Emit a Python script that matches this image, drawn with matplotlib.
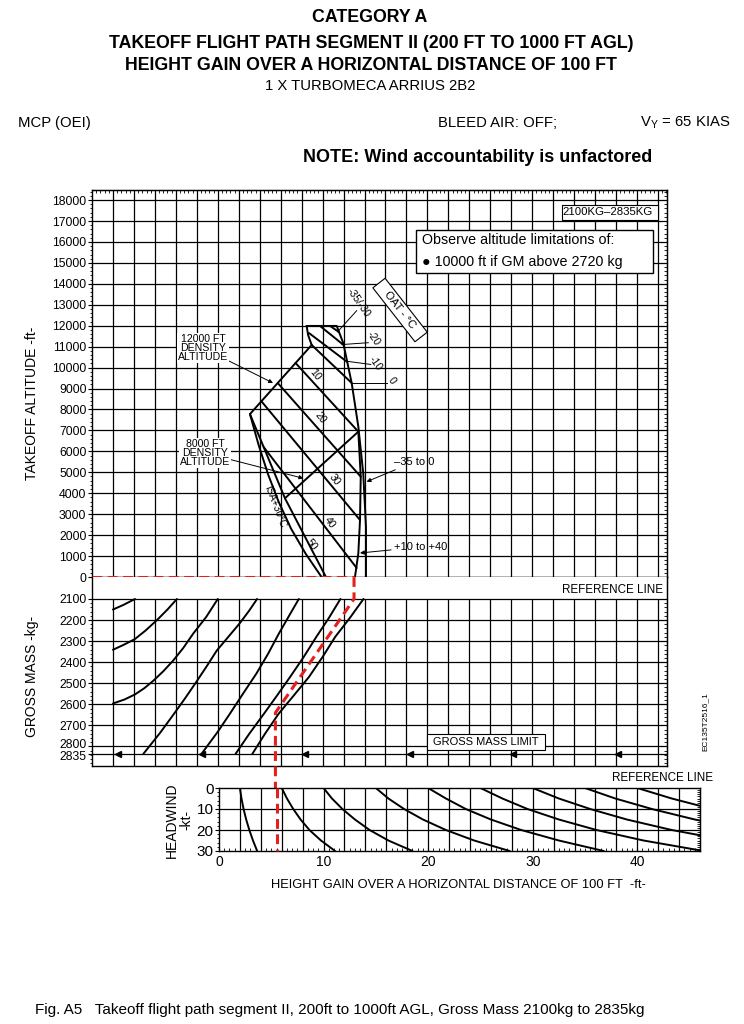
"""Category A takeoff flight path segment II nomogram (height gain per 100 ft)
"""
import matplotlib.pyplot as plt
from matplotlib.patches import Rectangle
from matplotlib.ticker import MultipleLocator, FixedLocator
import matplotlib.transforms as mtransforms

plt.rcParams['font.family'] = ['Liberation Sans', 'DejaVu Sans']
plt.rcParams['mathtext.fontset'] = 'custom'
plt.rcParams['mathtext.rm'] = 'Liberation Sans'

W, H = 744, 1024

# ---------------------------------------------------------------- data
altitude_ticks = list(range(0, 18001, 1000))
mass_ticks = [2100, 2200, 2300, 2400, 2500, 2600, 2700, 2800, 2835]
wind_ticks = [0, 10, 20, 30]
gain_ticks = [0, 10, 20, 30, 40]

# upper carpet: x in height-gain units, y in takeoff altitude (ft)
da_12000_x = [8.96, 3.07]
da_12000_alt = [11080, 7780]
da_8000_x = [13.41, 6.41]
da_8000_alt = [6940, 3760]
leaf_x = [8.48, 8.62, 8.96]
leaf_alt = [11990, 11550, 11080]
outer_x = [8.48, 11.35, 11.98, 12.78, 13.41, 13.88, 14.14, 14.14]
outer_alt = [11990, 11990, 11160, 9250, 7180, 4950, 2400, 0]
inner_x = [13.41, 13.64, 13.57, 13.41, 13.09]
inner_alt = [6940, 4790, 2720, 1130, 0]
left_edge_x = [3.07, 6.41]
left_edge_alt = [7780, 3760]
isa30_x = [3.07, 3.9, 4.8, 5.8, 7.0, 8.4, 9.9]
isa30_alt = [7780, 6300, 4900, 3600, 2300, 1100, 0]

oat_start_x = [10.71, 9.75, 8.70, 8.96, 7.42, 5.72, 4.15, 4.37, 6.41]
oat_start_alt = [11990, 11990, 11650, 11080, 10220, 9264, 8400, 6210, 3760]
oat_end_x = [11.55, 12.0, 12.35, 12.78, 13.41, 13.64, 13.57, 13.25, 10.32]
oat_end_alt = [11700, 11080, 10270, 9264, 6940, 4790, 2722, 430, 0]

# lower-left chart: gross mass lines
mass_curve_x = [
    [-10.0, -9.0, -7.9],
    [-10.0, -9.0, -7.9, -6.9, -5.8, -4.8, -3.9],
    [-10.0, -8.9, -7.9, -7.0, -6.15, -5.2, -4.25, -3.3, -2.34, -1.1, 0.0],
    [-7.1, -5.5, -4.25, -3.1, -2.0, -1.0, -0.1, 1.0, 2.1, 3.0, 3.75],
    [-1.55, 0.0, 1.15, 2.4, 3.67, 4.8, 5.83, 6.8, 7.73],
    [1.7, 3.0, 4.4, 5.7, 6.9, 8.2, 9.4, 10.6, 11.7],
    [3.3, 4.5, 5.8, 7.3, 8.7, 10.0, 11.2, 12.6, 13.9],
]
mass_curve_kg = [
    [2150, 2128, 2100],
    [2341, 2318, 2290, 2250, 2200, 2150, 2100],
    [2596, 2577, 2553, 2523, 2488, 2443, 2392, 2333, 2264, 2185, 2100],
    [2835, 2735, 2650, 2570, 2490, 2415, 2345, 2280, 2215, 2155, 2100],
    [2835, 2730, 2645, 2550, 2455, 2360, 2264, 2180, 2100],
    [2835, 2740, 2645, 2555, 2470, 2375, 2280, 2190, 2100],
    [2835, 2740, 2645, 2555, 2470, 2375, 2280, 2190, 2100],
]
gross_mass_limit = 2835
limit_arrow_x = [-9.5, -1.5, 8.3, 18.3, 28.2, 38.2]

# headwind correction lines
wind_curve_gain = [
    [2.0, 2.15, 2.35, 2.6, 2.9, 3.25, 3.65],
    [6.0, 6.5, 7.1, 7.8, 8.65, 9.75, 11.1],
    [10.0, 10.8, 11.8, 13.0, 14.4, 16.2, 18.5],
    [15.0, 16.2, 17.7, 19.5, 21.7, 24.4, 27.8],
    [20.0, 21.7, 23.6, 26.0, 28.9, 32.5, 36.8],
    [25.0, 27.1, 29.5, 32.5, 36.1, 40.6, 46.0],
    [30.0, 32.5, 35.5, 39.0, 43.3, 46.0],
    [35.0, 37.9, 41.4, 45.5, 46.0],
    [40.0, 43.3, 46.0],
]
wind_curve_kt = [
    [0, 5, 10, 15, 20, 25, 30],
    [0, 5, 10, 15, 20, 25, 30],
    [0, 5, 10, 15, 20, 25, 30],
    [0, 5, 10, 15, 20, 25, 30],
    [0, 5, 10, 15, 20, 25, 30],
    [0, 5, 10, 15, 20, 25, 29.7],
    [0, 5, 10, 15, 20, 22.5],
    [0, 5, 10, 15, 15.5],
    [0, 5, 8.5],
]

# worked example (red dashed)
ref_alt_x = [-12.0, 13.0]
ref_alt_ft = [0, 0]
ref_mass_x = [13.0, 13.0, 5.5, 5.5]
ref_mass_kg = [1996, 2100, 2640, 2997]
ref_wind_x = [5.5, 5.5]
ref_wind_kt = [0, 30]

# ---------------------------------------------------------------- figure
fig = plt.figure(figsize=(W / 100, H / 100), dpi=100)


def px_box(left, top, right, bottom):
    return [left / W, 1 - bottom / H, (right - left) / W, (bottom - top) / H]


def fig_text(x, y, s, **kw):
    kw.setdefault('va', 'center')
    fig.text(x / W, 1 - y / H, s, **kw)


ax_alt = fig.add_axes(px_box(92, 190, 667, 577))
ax_mass = fig.add_axes(px_box(92, 577, 667, 766))
ax_wind = fig.add_axes(px_box(219, 788, 700, 851))

GRID = dict(color='black', lw=0.9, zorder=1)
CURVE = dict(color='black', lw=1.4, zorder=3, solid_capstyle='round')
THIN = dict(color='black', lw=0.7, zorder=3)
RED = dict(color='#e3201b', lw=2.2, ls=(0, (3.2, 1.8)), zorder=6, clip_on=False)
ARROW = dict(arrowstyle='-|>', color='black', lw=0.7, mutation_scale=6,
             shrinkA=0, shrinkB=0)

for ax in (ax_alt, ax_mass, ax_wind):
    for sp in ax.spines.values():
        sp.set_linewidth(1.0)


def inner_ticks(ax, right_step, top_step=None):
    sec = ax.secondary_yaxis('right')
    sec.set_yticks([])
    sec.yaxis.set_minor_locator(right_step)
    sec.tick_params(which='minor', direction='in', length=2.5, width=0.6)
    if top_step is not None:
        sect = ax.secondary_xaxis('top')
        sect.set_xticks([])
        sect.xaxis.set_minor_locator(top_step)
        sect.tick_params(which='minor', direction='in', length=2.5, width=0.6)


# --- takeoff altitude panel
x_lo, x_hi = -12.0, 42.86
alt_top = 18481
ax_alt.set_xlim(x_lo, x_hi)
ax_alt.set_ylim(0, alt_top)
grid_x = list(range(-10, 43, 2))
ax_alt.vlines(grid_x, 0, alt_top, **GRID)
ax_alt.hlines(altitude_ticks, x_lo, x_hi, **GRID)
ax_alt.set_yticks(altitude_ticks)
ax_alt.yaxis.set_minor_locator(MultipleLocator(200))
ax_alt.tick_params(axis='y', which='major', direction='out', length=3, width=0.8,
                   labelsize=8.8, pad=1)
ax_alt.tick_params(axis='y', which='minor', direction='out', length=1.8, width=0.6)
ax_alt.tick_params(axis='x', which='both', bottom=False, labelbottom=False)
inner_ticks(ax_alt, MultipleLocator(200), MultipleLocator(0.4))

ax_alt.plot(da_12000_x, da_12000_alt, **CURVE)
ax_alt.plot(da_8000_x, da_8000_alt, **CURVE)
ax_alt.plot(leaf_x, leaf_alt, **CURVE)
ax_alt.plot(outer_x, outer_alt, **CURVE)
ax_alt.plot(inner_x, inner_alt, **CURVE)
ax_alt.plot(left_edge_x, left_edge_alt, **CURVE)
ax_alt.plot(isa30_x, isa30_alt, **CURVE)
for x0, y0, x1, y1 in zip(oat_start_x, oat_start_alt, oat_end_x, oat_end_alt):
    ax_alt.plot([x0, x1], [y0, y1], **CURVE)

# temperature labels
for s, x, y in [('10', 9.27, 9647), ('20', 9.75, 7593), ('30', 11.18, 4632),
                ('40', 10.71, 2579), ('50', 8.96, 1528)]:
    ax_alt.text(x, y, s, rotation=-52, ha='center', va='center', fontsize=7.5,
                zorder=5)
for s, x, y, lx, ly in [('-35/-30', 13.38, 13085, [13.25, 11.44], [12717, 11714]),
                        ('-20', 14.81, 11414, [14.36, 11.85], [11189, 11100]),
                        ('-10', 15.0, 10219, [14.6, 12.35], [10150, 10300]),
                        ('0', 16.62, 9360, [16.1, 12.85], [9280, 9280])]:
    ax_alt.text(x, y, s, rotation=-55, ha='center', va='center', fontsize=7.5,
                zorder=5)
    ax_alt.plot(lx, ly, **THIN)
ax_alt.text(17.39, 12750, '   OAT - °C   ', rotation=-52, ha='center', va='center',
            fontsize=8, zorder=5,
            bbox=dict(boxstyle='square,pad=0.25', fc='white', ec='black', lw=0.8))
ax_alt.text(5.45, 3350, 'ISA+30°C', rotation=-69, ha='center', va='center',
            fontsize=7.2, zorder=5)

ax_alt.annotate('12000 FT\nDENSITY\nALTITUDE', xy=(5.27, 9264), xytext=(-1.41, 10936),
                ha='center', va='center', fontsize=7.6, linespacing=0.9, zorder=5,
                bbox=dict(boxstyle='square,pad=0.05', fc='white', ec='none'),
                arrowprops=ARROW)
ax_alt.annotate('8000 FT\nDENSITY\nALTITUDE', xy=(8.16, 4713), xytext=(-1.22, 5922),
                ha='center', va='center', fontsize=7.6, linespacing=0.9, zorder=5,
                bbox=dict(boxstyle='square,pad=0.05', fc='white', ec='none'),
                arrowprops=ARROW)
ax_alt.annotate('–35 to 0', xy=(14.2, 4551), xytext=(16.8, 5492), ha='left',
                va='center', fontsize=8, zorder=5, arrowprops=ARROW)
ax_alt.annotate('+10 to +40', xy=(13.57, 1146), xytext=(16.8, 1433), ha='left',
                va='center', fontsize=8, zorder=5, arrowprops=ARROW)

# boxes at the top right
ax_alt.add_patch(Rectangle((32.84, 17048), 9.16, 717, fc='white', ec='black',
                           lw=0.8, zorder=4))
ax_alt.text(41.5, 17410, '2100KG–2835KG', ha='right', va='center', fontsize=8.2,
            zorder=5)
ax_alt.add_patch(Rectangle((18.91, 14518), 22.62, 2053, fc='white', ec='black',
                           lw=1.0, zorder=4))
ax_alt.text(19.5, 16093, 'Observe altitude limitations of:', ha='left',
            va='center', fontsize=10.3, zorder=5)
ax_alt.text(19.5, 15043, '● 10000 ft if GM above 2720 kg', ha='left',
            va='center', fontsize=10.3, zorder=5)

ax_alt.plot(ref_alt_x, ref_alt_ft, **RED)

# --- gross mass panel
mass_top, mass_bottom = 1995.6, 2892.6
ax_mass.set_xlim(x_lo, x_hi)
ax_mass.set_ylim(mass_bottom, mass_top)
ax_mass.spines['top'].set_visible(False)
ax_mass.vlines(grid_x, 2100, mass_bottom, **GRID)
ax_mass.hlines(mass_ticks, x_lo, x_hi, **GRID)
ax_mass.set_yticks(mass_ticks)
ax_mass.yaxis.set_minor_locator(FixedLocator(list(range(2100, 2890, 20))))
ax_mass.tick_params(axis='y', which='major', direction='out', length=3, width=0.8,
                    labelsize=8.8, pad=1)
ax_mass.tick_params(axis='y', which='minor', direction='out', length=1.8, width=0.6)
ax_mass.tick_params(axis='x', which='both', bottom=False, labelbottom=False)
inner_ticks(ax_mass, FixedLocator(list(range(2100, 2890, 20))))

for xs, ms in zip(mass_curve_x, mass_curve_kg):
    ax_mass.plot(xs, ms, **CURVE)
ax_mass.plot(limit_arrow_x, [gross_mass_limit] * len(limit_arrow_x), ls='none',
             marker='<', ms=4.5, color='black', zorder=4)
ax_mass.add_patch(Rectangle((19.96, 2741), 11.26, 76, fc='white', ec='black',
                            lw=0.8, zorder=4))
ax_mass.text(25.6, 2779, 'GROSS MASS LIMIT', ha='center', va='center', fontsize=8,
             zorder=5)
ax_mass.text(42.5, 2057, 'REFERENCE LINE', ha='right', va='center', fontsize=8.4)
ax_mass.text(46.5, 2684, 'EC135T2516_1', rotation=90, ha='center', va='center',
             fontsize=6, clip_on=False)
ax_mass.plot(ref_mass_x, ref_mass_kg, **RED)

# nudge the crowded 2800 / 2835 labels apart
mticks = ax_mass.yaxis.get_major_ticks()
mticks[7].label1.set_transform(mticks[7].label1.get_transform() +
                               mtransforms.ScaledTranslation(0, 3 / 100,
                                                             fig.dpi_scale_trans))
mticks[8].label1.set_transform(mticks[8].label1.get_transform() +
                               mtransforms.ScaledTranslation(0, -1.5 / 100,
                                                             fig.dpi_scale_trans))

# --- headwind panel
ax_wind.set_xlim(0, 46)
ax_wind.set_ylim(30, 0)
ax_wind.vlines(list(range(2, 45, 2)), 0, 30, **GRID)
ax_wind.hlines([10, 20], 0, 46, **GRID)
ax_wind.set_yticks(wind_ticks)
ax_wind.yaxis.set_minor_locator(MultipleLocator(2))
ax_wind.tick_params(axis='y', which='major', direction='out', length=3, width=0.8,
                    labelsize=11, pad=1)
ax_wind.tick_params(axis='y', which='minor', direction='out', length=1.8, width=0.6)
ax_wind.set_xticks(gain_ticks)
ax_wind.xaxis.set_minor_locator(MultipleLocator(0.5))
ax_wind.tick_params(axis='x', which='major', direction='in', length=2.5, width=0.8,
                    labelsize=10, pad=3)
ax_wind.tick_params(axis='x', which='minor', direction='in', length=2, width=0.6)
inner_ticks(ax_wind, MultipleLocator(1))

for gs, ks in zip(wind_curve_gain, wind_curve_kt):
    ax_wind.plot(gs, ks, **CURVE)
ax_wind.text(47.2, -4.6, 'REFERENCE LINE', ha='right', va='center', fontsize=8.4,
             clip_on=False)
ax_wind.plot(ref_wind_x, ref_wind_kt, **RED)

# --- texts around the chart
fig_text(370, 18, 'CATEGORY A', fontsize=12.8, weight='bold', ha='center')
fig_text(371, 43, 'TAKEOFF FLIGHT PATH SEGMENT II (200 FT TO 1000 FT AGL)',
         fontsize=12.8, weight='bold', ha='center')
fig_text(371, 65, 'HEIGHT GAIN OVER A HORIZONTAL DISTANCE OF 100 FT',
         fontsize=12.8, weight='bold', ha='center')
fig_text(370, 86, '1 X TURBOMECA ARRIUS 2B2', fontsize=10.7, ha='center')
fig_text(18, 123, 'MCP (OEI)', fontsize=10.7, ha='left')
fig_text(438, 123, 'BLEED AIR: OFF;', fontsize=10.7, ha='left')
fig_text(640, 123, r'V$_{\mathrm{Y}}$ = 65 KIAS', fontsize=10.7, ha='left')
fig_text(478, 158, 'NOTE: Wind accountability is unfactored', fontsize=13,
         weight='bold', ha='center')

fig_text(32, 403, 'TAKEOFF ALTITUDE -ft-', rotation=90, ha='center', fontsize=10)
fig_text(32, 676, 'GROSS MASS -kg-', rotation=90, ha='center', fontsize=10)
fig_text(179, 820, 'HEADWIND\n-kt-', rotation=90, ha='center', fontsize=10,
         multialignment='center', linespacing=1.0)
fig_text(458, 885, 'HEIGHT GAIN OVER A HORIZONTAL DISTANCE OF 100 FT  -ft-',
         fontsize=9.3, ha='center')
fig_text(35, 1010, 'Fig. A5   Takeoff flight path segment II, 200ft to 1000ft AGL, '
         'Gross Mass 2100kg to 2835kg', fontsize=11, ha='left')

fig.savefig('out.png', dpi=100)
